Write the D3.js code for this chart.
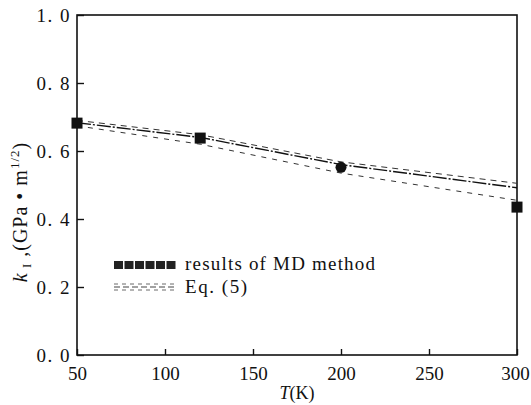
<!DOCTYPE html>
<html>
<head>
<meta charset="utf-8">
<script src="https://cdn.jsdelivr.net/npm/d3@7"></script>
<style>
  body { margin: 0; background: #fff; }
  text { font-family: "Liberation Serif", "DejaVu Serif", serif; fill: #111; }
</style>
</head>
<body>
<script>
// data
var mdT = [50, 120, 200, 300];
var mdK = [0.682, 0.638, 0.552, 0.435];
var mdShape = ["square", "square", "circle", "square"];

var eqT = [50, 120, 200, 300];
var eqMid = [0.683, 0.640, 0.560, 0.492];
var eqUpper = [0.690, 0.648, 0.568, 0.505];
var eqLower = [0.674, 0.620, 0.535, 0.455];

var xTicks = [50, 100, 150, 200, 250, 300];
var yTicks = [0, 0.2, 0.4, 0.6, 0.8, 1.0];
var yTickLabels = ["0. 0", "0. 2", "0. 4", "0. 6", "0. 8", "1. 0"];

var width = 531, height = 405;
var svg = d3.select("body").append("svg")
  .attr("width", width)
  .attr("height", height);

var x = d3.scaleLinear().domain([50, 300]).range([77, 517]);
var y = d3.scaleLinear().domain([0, 1]).range([355, 15]);

// frame
svg.append("rect")
  .attr("x", x(50)).attr("y", y(1))
  .attr("width", x(300) - x(50)).attr("height", y(0) - y(1))
  .style("fill", "none").style("stroke", "#111").style("stroke-width", 1.6);

// axes, ticks point inward
var xAxis = svg.append("g")
  .attr("transform", "translate(0," + y(0) + ")")
  .call(d3.axisBottom(x).tickValues(xTicks).tickSizeInner(-6).tickSizeOuter(0).tickPadding(12));
xAxis.select(".domain").remove();
xAxis.selectAll("line").style("stroke", "#111").style("stroke-width", 1.4);
xAxis.selectAll("text")
  .attr("font-family", "Liberation Serif, serif")
  .style("font-size", "19px").attr("fill", "#111");
xAxis.selectAll(".tick:last-of-type text").attr("dx", -2);

var yAxis = svg.append("g")
  .attr("transform", "translate(" + x(50) + ",0)")
  .call(d3.axisLeft(y).tickValues(yTicks).tickSizeInner(-7).tickSizeOuter(0).tickPadding(6)
    .tickFormat(function(d, i) { return yTickLabels[i]; }));
yAxis.select(".domain").remove();
yAxis.selectAll("line").style("stroke", "#111").style("stroke-width", 1.4);
yAxis.selectAll("text")
  .attr("font-family", "Liberation Serif, serif")
  .style("font-size", "19px").style("letter-spacing", "1.5px").attr("fill", "#111");

// Eq. (5) lines
var line = d3.line().x(function(d) { return x(d[0]); }).y(function(d) { return y(d[1]); });
function pts(vals) { return eqT.map(function(t, i) { return [t, vals[i]]; }); }

svg.append("path").attr("d", line(pts(eqUpper)))
  .style("fill", "none").style("stroke", "#333").style("stroke-width", 1)
  .style("stroke-dasharray", "6,5");
svg.append("path").attr("d", line(pts(eqLower)))
  .style("fill", "none").style("stroke", "#333").style("stroke-width", 1)
  .style("stroke-dasharray", "5,6");
svg.append("path").attr("d", line(pts(eqMid)))
  .style("fill", "none").style("stroke", "#111").style("stroke-width", 1.4)
  .style("stroke-dasharray", "14,2,2,2");

// MD markers
mdT.forEach(function(t, i) {
  if (mdShape[i] == "circle") {
    svg.append("circle").attr("cx", x(t)).attr("cy", y(mdK[i])).attr("r", 5.5).style("fill", "#111");
  } else {
    svg.append("rect").attr("x", x(t) - 5.5).attr("y", y(mdK[i]) - 5.5)
      .attr("width", 11).attr("height", 11).style("fill", "#111");
  }
});

// legend
var legX = 114, legY1 = 265, legY2 = 287;
d3.range(6).forEach(function(i) {
  svg.append("rect").attr("x", legX + i * 10.5).attr("y", legY1 - 4)
    .attr("width", 9).attr("height", 8).style("fill", "#222");
});
svg.append("text").attr("x", 185).attr("y", legY1 + 5).style("font-size", "19px")
  .attr("textLength", 190).attr("lengthAdjust", "spacing")
  .text("results of MD method");

[-3, 0, 3].forEach(function(dy, i) {
  svg.append("line").attr("x1", legX).attr("x2", legX + 62)
    .attr("y1", legY2 + dy).attr("y2", legY2 + dy)
    .style("stroke", "#444").style("stroke-width", i == 1 ? 1.2 : 0.8)
    .style("stroke-dasharray", i == 1 ? "6,3" : "4,4");
});
svg.append("text").attr("x", 185).attr("y", legY2 + 6).style("font-size", "19px")
  .attr("textLength", 62).attr("lengthAdjust", "spacing")
  .text("Eq. (5)");

// axis titles
var xt = svg.append("text").attr("x", 297).attr("y", 399).attr("text-anchor", "middle")
  .style("font-size", "18px");
xt.append("tspan").style("font-style", "italic").text("T");
xt.append("tspan").text("(K)");

var yt = svg.append("text")
  .attr("transform", "translate(27," + 212 + ") rotate(-90)")
  .attr("text-anchor", "middle")
  .style("font-size", "20px").style("letter-spacing", "1px");
yt.append("tspan").style("font-style", "italic").text("k");
yt.append("tspan").attr("dy", 4).style("font-size", "13px").text(" I");
yt.append("tspan").attr("dy", -4).text(" ,(GPa \u2022 m");
yt.append("tspan").attr("dy", -8).style("font-size", "13px").text("1/2");
yt.append("tspan").attr("dy", 8).text(")");
</script>
</body>
</html>
